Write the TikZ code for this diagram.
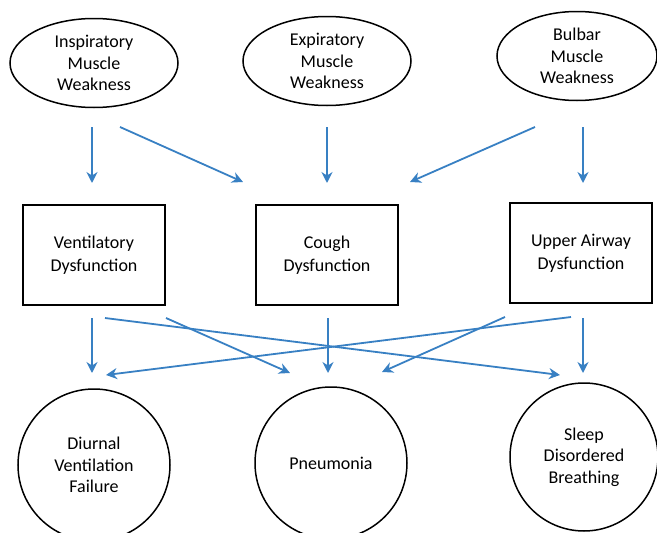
\documentclass[tikz,border=0pt]{standalone}
\usepackage{fontspec}
\setmainfont{Carlito}
\usetikzlibrary{shapes.geometric,arrows.meta}

\definecolor{arrowblue}{RGB}{56,128,195}

\begin{document}
\begin{tikzpicture}[x=1pt,y=-1pt]
\tikzstyle{cause}=[ellipse, draw=black, line width=1.5pt, minimum width=168pt, minimum height=89pt, inner sep=0pt, align=center, font=\fontsize{18}{21.5}\selectfont]
\tikzstyle{problem}=[rectangle, draw=black, line width=1.5pt, minimum width=142pt, minimum height=100pt, align=center, font=\fontsize{18}{23}\selectfont]
\tikzstyle{outcome}=[circle, draw=black, line width=1.5pt, minimum size=152pt, inner sep=0pt, align=center, font=\fontsize{18}{21.5}\selectfont]
\tikzstyle{connect}=[-{Stealth[length=11pt,width=11pt]}, arrowblue, line width=1.8pt]
  \useasboundingbox (0,0) rectangle (657,533);
  % top row
  \node[cause] (insp) at (94,63) {Inspiratory\\Muscle\\Weakness};
  \node[cause] (expi) at (327,61) {Expiratory\\Muscle\\Weakness};
  \node[cause, minimum width=160pt] (bulb) at (577,56) {Bulbar\\Muscle\\Weakness};
  % middle row
  \node[problem] (vent) at (94,255) {Ventilatory\\Dysfunction};
  \node[problem] (cough) at (327,255) {Cough\\Dysfunction};
  \node[problem] (upper) at (581,253) {Upper Airway\\Dysfunction};
  % bottom row
  \node[outcome] (diurnal) at (94,465) {Diurnal\\Ventilation\\Failure};
  \node[outcome] (pneu) at (331,463) {Pneumonia};
  \node[outcome, minimum size=148pt] (sleep) at (584,457) {Sleep\\Disordered\\Breathing};

  % arrow ends
  \coordinate (insp-a) at (92,127);  \coordinate (vent-a) at (92,183);
  \coordinate (insp-b) at (120,127); \coordinate (cough-a) at (243,182);
  \coordinate (expi-a) at (327,127); \coordinate (cough-b) at (327,183);
  \coordinate (bulb-a) at (535,127); \coordinate (cough-c) at (410,182);
  \coordinate (bulb-b) at (583,127); \coordinate (upper-a) at (583,183);

  \coordinate (vent-b) at (92,318);   \coordinate (diurnal-a) at (92,373);
  \coordinate (vent-c) at (105,318);  \coordinate (sleep-a) at (560,375);
  \coordinate (vent-d) at (166,318);  \coordinate (pneu-a) at (290,373);
  \coordinate (cough-d) at (328,318); \coordinate (pneu-b) at (328,373);
  \coordinate (upper-b) at (571,317); \coordinate (diurnal-b) at (106,375);
  \coordinate (upper-c) at (505,317); \coordinate (pneu-c) at (382,372);
  \coordinate (upper-d) at (583,318); \coordinate (sleep-b) at (583,373);

  \path (insp-a) edge [connect] (vent-a)
	(insp-b) edge [connect] (cough-a)
	(expi-a) edge [connect] (cough-b)
	(bulb-a) edge [connect] (cough-c)
	(bulb-b) edge [connect] (upper-a)
	(vent-b) edge [connect] (diurnal-a)
	(vent-c) edge [connect] (sleep-a)
	(vent-d) edge [connect] (pneu-a)
	(cough-d) edge [connect] (pneu-b)
	(upper-b) edge [connect] (diurnal-b)
	(upper-c) edge [connect] (pneu-c)
	(upper-d) edge [connect] (sleep-b);
\end{tikzpicture}
\end{document}
